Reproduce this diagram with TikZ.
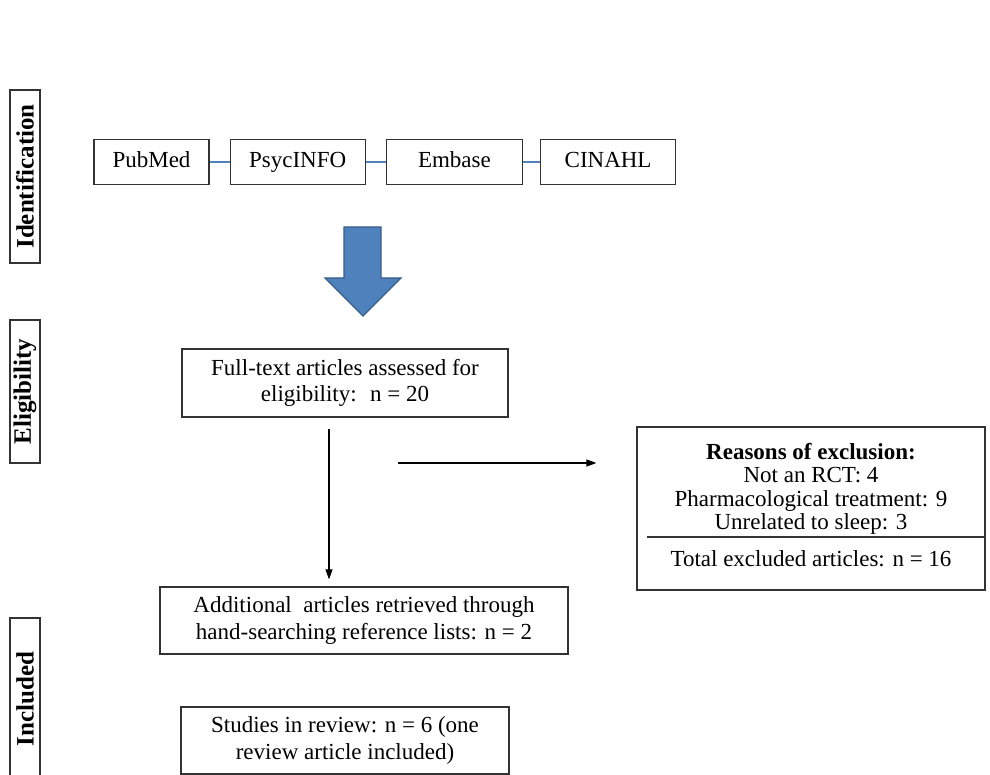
\documentclass[tikz,border=0pt]{standalone}
\usepackage{fontspec}
\setmainfont{Liberation Serif}
\usetikzlibrary{arrows.meta,positioning,calc}
\definecolor{OfficeAzul}{RGB}{79,129,189}
\definecolor{OfficeAzulBorde}{RGB}{56,93,138}
\colorlet{borde}{black!80}
\tikzset{
  fase/.style={draw=borde,line width=1.2pt,rotate=90,minimum height=30pt,inner sep=0pt,
               font=\fontsize{25}{28}\selectfont\bfseries},
  bd/.style={draw=borde,line width=1.2pt,minimum height=45pt,inner sep=0pt,
             text height=16pt,text depth=5pt,font=\fontsize{23}{26}\selectfont},
  caja/.style={draw=borde,line width=1.2pt,align=center,inner sep=0pt,
               font=\fontsize{23}{26.5}\selectfont},
  enlace/.style={OfficeAzul,line width=1.4pt},
  paso/.style={-{Triangle[length=10pt,width=7pt]},line width=1.1pt,black},
}

\begin{document}
\begin{tikzpicture}[x=1pt,y=-1pt]
  \useasboundingbox (0,0) rectangle (990,775);
  % fases
  \node[fase,minimum width=173pt] (ident) at (25,176.5) {Identification};
  \node[fase,minimum width=143pt] (elig) at (25,391.5) {Eligibility};
  \node[fase,minimum width=162pt] (incl) at (25,699) {Included};
  % bases de datos
  \node[bd,minimum width=115pt] (pub) at (151.5,162) {PubMed};
  \node[bd,minimum width=135pt,right=20pt of pub] (psyc) {PsycINFO};
  \node[bd,minimum width=136pt,right=20pt of psyc] (emb) {Embase};
  \node[bd,minimum width=135pt,right=17pt of emb] (cin) {CINAHL};
  \foreach \i/\j in {pub/psyc,psyc/emb,emb/cin} \draw[enlace] (\i) -- (\j);
  \draw[fill=OfficeAzul,draw=OfficeAzulBorde,line width=1.2pt]
    (344,227) -- (381,227) -- (381,278) -- (401,278) -- (363,316)
    -- (325,278) -- (344,278) -- cycle;
  % cajas
  \node[caja,minimum width=326pt,minimum height=68pt] (ft) at (345,383)
    {Full-text articles assessed for\\eligibility:~ n = 20};
  \node[caja,minimum width=408pt,minimum height=67pt] (add) at (364,620.5)
    {Additional~ articles retrieved through\\hand-searching reference lists: n = 2};
  \node[caja,minimum width=328pt,minimum height=67pt] (rev) at (345,740.5)
    {Studies in review: n = 6 (one\\review article included)};
  \node[caja,minimum width=348pt,minimum height=163pt,font=\fontsize{23}{23.5}\selectfont]
    (razones) at (811,508.5)
    {\textbf{Reasons of exclusion:}\\Not an RCT: 4\\Pharmacological treatment: 9\\
     Unrelated to sleep: 3\\[13pt]Total excluded articles: n = 16\rule[-8pt]{0pt}{0pt}};
  \draw[borde,line width=1.2pt] ([xshift=11pt,yshift=-28.5pt]razones.west)
    -- ([yshift=-28.5pt]razones.east);
  % flechas
  \draw[paso,shorten >=7pt] ([xshift=-16pt,yshift=-11pt]ft.south) -- ([xshift=-35pt]add.north);
  \coordinate (h) at (398,463);
  \draw[paso,shorten >=40pt] (h) -- (h -| razones.west);
\end{tikzpicture}
\end{document}
